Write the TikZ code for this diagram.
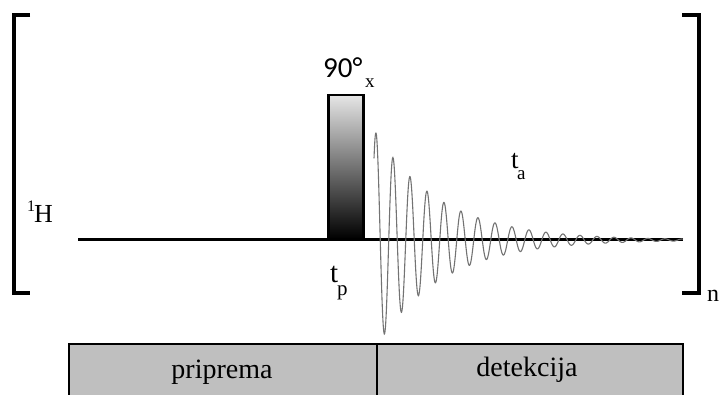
\documentclass[tikz,border=0pt]{standalone}
\usepackage{fontspec}
\setmainfont{Liberation Serif}
\newfontfamily\calfont{Carlito}
\begin{document}
\begin{tikzpicture}[x=1pt,y=-1pt,
  bracket/.style={line width=3.4pt},
  base/.style={line width=3pt},
  fid/.style={draw=black!55,line width=1.1pt},
  phase/.style={draw=black,line width=2.4pt,fill=black!25},
  lbl/.style={inner sep=0pt,anchor=base west},
  boxtxt/.style={inner sep=0pt,anchor=base,font=\fontsize{28}{32}\selectfont},
]
\clip (0,0) rectangle (723,395);
\useasboundingbox (0,0) rectangle (723,395);
% brackets
\draw[bracket] (30,15) -- (14,15) -- (14,293) -- (30,293);
\draw[bracket] (682,15) -- (699,15) -- (699,293) -- (682,293);
\node[lbl,font=\fontsize{24}{28}\selectfont] (n) at (707,302) {n};
% baseline
\coordinate (bstart) at (78,240);
\coordinate (bend) at (683,240);
\draw[base] (bstart) -- (bend);
% FID
\draw[fid] plot[domain=-2:307,samples=900,smooth]
  ({376+\x},{240-107*exp(-0.0154*\x)*cos(21.1765*\x)});
% pulse
\node[draw=black,line width=2.4pt,minimum width=35pt,minimum height=144pt,
  top color=black!10,bottom color=black,inner sep=0pt] (pulse) at (346,167) {};
\node[lbl,font=\calfont\fontsize{29}{32}\selectfont] (ang) at (323,78) {90°};
\node[lbl,font=\fontsize{19}{22}\selectfont] (angx) at (365,88) {x};
\node[lbl,font=\fontsize{29}{32}\selectfont] (tp) at (330,283) {t};
\node[lbl,font=\fontsize{21}{24}\selectfont] (tpp) at (337,296) {p};
\node[lbl,font=\fontsize{27}{30}\selectfont] (ta) at (511,169) {t};
\node[lbl,font=\fontsize{19}{22}\selectfont] (taa) at (517,180) {a};
\node[lbl,font=\fontsize{16}{18}\selectfont] (H1) at (27,212) {1};
\node[lbl,font=\fontsize{26}{30}\selectfont] (H) at (34,223) {H};
% phases
\draw[phase] (69,344) rectangle (377,400);
\draw[phase] (377,344) rectangle (683,400);
\node[boxtxt] (prep) at (222,378) {priprema};
\node[boxtxt] (det) at (527,377) {detekcija};
\end{tikzpicture}
\end{document}
